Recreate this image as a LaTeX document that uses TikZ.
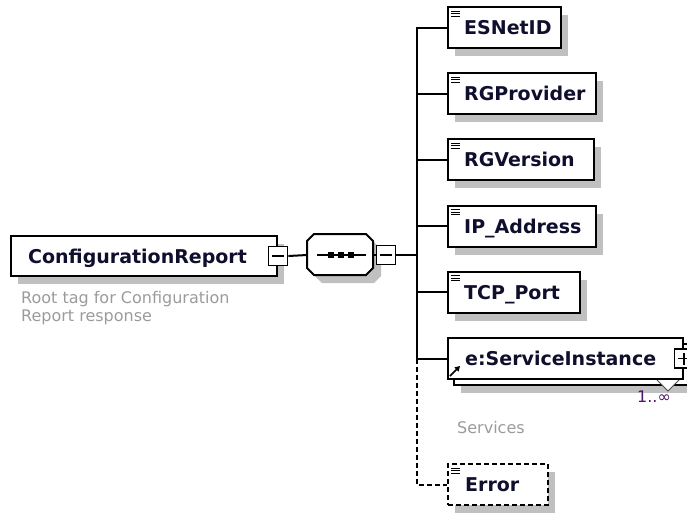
\documentclass[tikz,border=0pt]{standalone}
\usepackage{fontspec}
\setmainfont{DejaVu Sans}
\usetikzlibrary{calc,positioning,arrows.meta}

\definecolor{shadowgray}{RGB}{192,192,192}
\definecolor{descgray}{RGB}{155,155,155}
\definecolor{occurcol}{RGB}{80,20,100}
\definecolor{elemcol}{RGB}{15,15,45}

\newcommand\elemfont{\fontsize{19}{22}\selectfont\bfseries}
\newcommand\descfont{\fontsize{16}{18}\selectfont}

\tikzset{
  conn/.style={line width=2pt},
  elembox/.style={draw, line width=2pt, fill=white, anchor=north west,
    minimum height=41pt, inner sep=0pt},
  shadowed/.style={preaction={fill=shadowgray,
      transform canvas={shift={(7pt,-8pt)}}}},
  leaf/.style={path picture={
      \foreach \k in {0,1,2}
        \draw[solid, line width=1pt]
          ([shift={(3pt,-4pt-2.6pt*\k)}]path picture bounding box.north west)
          -- ++(9pt,0pt);}},
  elemlabel/.style={inner sep=0pt, text height=14pt, text depth=0pt,
    font=\elemfont, text=elemcol},
  pmbox/.style={draw, line width=1.8pt, fill=white, minimum size=19pt,
    inner sep=0pt},
  minus/.style={pmbox, path picture={
      \draw[line width=1.6pt] ([xshift=-6pt]path picture bounding box.center)
        -- ([xshift=6pt]path picture bounding box.center);}},
  plus/.style={pmbox, path picture={
      \draw[line width=1.6pt] ([xshift=-6pt]path picture bounding box.center)
        -- ([xshift=6pt]path picture bounding box.center)
        ([yshift=-6pt]path picture bounding box.center)
        -- ([yshift=6pt]path picture bounding box.center);}},
  desc/.style={inner sep=0pt, font=\descfont, text=descgray, anchor=base west}
}

\begin{document}
\begin{tikzpicture}[x=1pt,y=-1pt]
  \useasboundingbox (0,0) rectangle (687,512);
  \clip (0,0) rectangle (687,512);
  % root element
  \node[elembox, shadowed, minimum width=266pt, minimum height=40pt] (root) at (10,235) {};
  \node[elemlabel, right=18pt of root.west] (rootT) {ConfigurationReport};
  \node[minus] (rootpm) at (root.east) {};
  \node[desc] (rootdescA) at (21,303.5) {Root tag for Configuration};
  \node[desc] (rootdescB) at (21,321) {Report response};
  % sequence
  \fill[shadowgray, shift={(8,8)}] (314,234) -- (366,234) -- (373,241) -- (373,268)
    -- (366,275) -- (314,275) -- (307,268) -- (307,241) -- cycle;
  \draw[line width=2pt, fill=white] (314,234) -- (366,234) -- (373,241) -- (373,268)
    -- (366,275) -- (314,275) -- (307,268) -- (307,241) -- cycle;
  \draw[line width=1.6pt] (317,255) -- (366,255);
  \foreach \x in {331,341,351}
    \fill (\x-3,252) rectangle (\x+3,258);
  \coordinate (seqL) at (307,255);
  \coordinate (seqR) at (373,255);
  \node[minus] (seqpm) at (386,255) {};
  \coordinate (trunk) at (417,255);
  % children
  \node[elembox, shadowed, leaf, minimum width=113pt] (esnet) at (447,6) {};
  \node[elemlabel, right=17pt of esnet.west] (esnetT) {ESNetID};
  \node[elembox, shadowed, leaf, minimum width=148pt] (rgprov) at (447,72) {};
  \node[elemlabel, right=17pt of rgprov.west] (rgprovT) {RGProvider};
  \node[elembox, shadowed, leaf, minimum width=146pt] (rgver) at (447,138) {};
  \node[elemlabel, right=17pt of rgver.west] (rgverT) {RGVersion};
  \node[elembox, shadowed, leaf, minimum width=148pt] (ipaddr) at (447,204.5) {};
  \node[elemlabel, right=17pt of ipaddr.west] (ipaddrT) {IP\_Address};
  \node[elembox, shadowed, leaf, minimum width=132pt] (tcpport) at (447,270.5) {};
  \node[elemlabel, right=17pt of tcpport.west] (tcpportT) {TCP\_Port};
  \node[elembox, shadowed, minimum width=235pt] (svcback) at (453,343) {};
  \filldraw[fill=white, draw=black!70, line width=1pt] (657,380) -- (668,391) -- (679,380);
  \node[elembox, minimum width=235pt] (svc) at (447,337) {};
  \node[elemlabel, right=18pt of svc.west] (svcT) {e:ServiceInstance};
  \node[plus] (svcpm) at (svc.east) {};
  \draw[line width=1.6pt, -{Triangle[length=5pt,width=5.5pt]}]
    ([shift={(3pt,4pt)}]svc.south west) -- ++(10pt,10pt);
  \node[inner sep=0pt, font=\descfont, text=occurcol, anchor=base west] (svcocc) at (637,402) {1..∞};
  \node[desc] (svcdesc) at (457,433) {Services};
  \node[elembox, shadowed, leaf, dash pattern=on 5pt off 3pt, minimum width=100pt] (error) at (447,463) {};
  \node[elemlabel, right=18pt of error.west] (errorT) {Error};
  % connectors
  \draw[conn] (rootpm.east) -- (seqL);
  \draw[conn] (seqR) -- (seqpm.west);
  \draw[conn] (seqpm.east) -- (trunk);
  \draw[conn] (esnet.west) -| (svc.west -| trunk) -- (svc.west);
  \foreach \n in {rgprov,rgver,ipaddr,tcpport}
    \draw[conn] (\n.west -| trunk) -- (\n.west);
  \draw[conn, dash pattern=on 5pt off 3pt] (svc.west -| trunk) |- (error.west);
\end{tikzpicture}
\end{document}
